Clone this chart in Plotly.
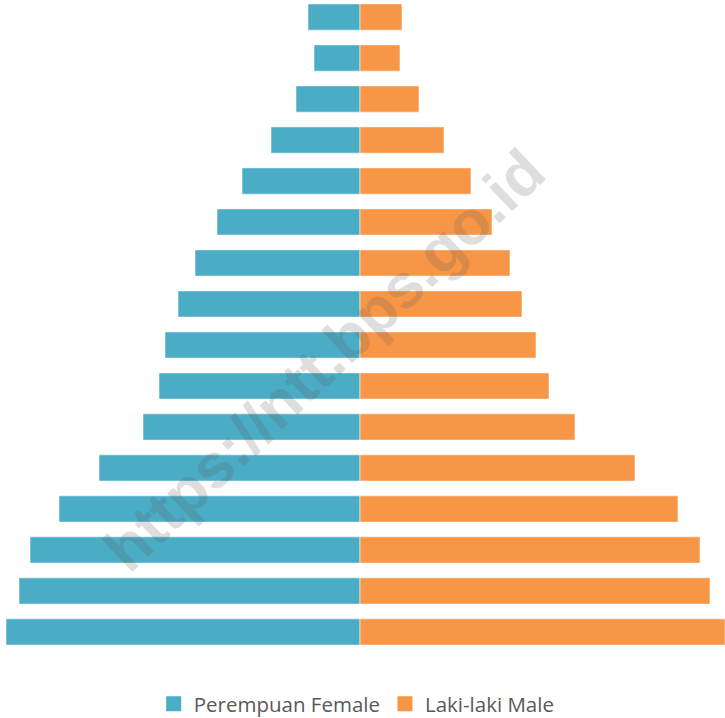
import plotly.graph_objects as go

# kelompok umur, dari bawah (0-4) ke atas (75+)
umur = ["0-4", "5-9", "10-14", "15-19", "20-24", "25-29", "30-34", "35-39",
        "40-44", "45-49", "50-54", "55-59", "60-64", "65-69", "70-74", "75+"]

# perkiraan jumlah penduduk (ribu)
perempuan = [354, 341, 330, 301, 261, 217, 201, 195, 182, 165, 143, 118, 89, 64, 46, 52]
laki = [365, 350, 340, 318, 275, 215, 189, 176, 162, 150, 132, 111, 84, 59, 40, 42]

biru = "#4BACC6"
oranye = "#F79646"

fig = go.Figure()
fig.add_trace(go.Bar(
    y=umur, x=[-v for v in perempuan], orientation="h",
    name="Perempuan Female", showlegend=False,
    marker=dict(color=biru, line=dict(color="rgba(255,255,255,0.55)", width=1)),
))
fig.add_trace(go.Bar(
    y=umur, x=laki, orientation="h",
    name="Laki-laki Male", showlegend=False,
    marker=dict(color=oranye, line=dict(color="rgba(255,255,255,0.55)", width=1)),
))

# legenda dengan kotak yang lebih besar
for nama, warna in [("Perempuan Female", biru), ("Laki-laki Male", oranye)]:
    fig.add_trace(go.Scatter(
        x=[None], y=[None], mode="markers", name=nama,
        marker=dict(symbol="square", size=15, color=warna),
    ))

fig.update_layout(
    width=725, height=718,
    barmode="relative", bargap=0.36,
    margin=dict(l=0, r=0, t=0, b=64),
    plot_bgcolor="white", paper_bgcolor="white",
    xaxis=dict(range=[-360, 365], visible=False, fixedrange=True),
    yaxis=dict(range=[-0.537, 15.415], visible=False, fixedrange=True),
    showlegend=True,
    legend=dict(orientation="h", x=0.492, xanchor="center",
                yref="container", y=0.0195, yanchor="middle",
                font=dict(family="Open Sans", size=20.5, color="#595959"),
                itemwidth=30, traceorder="normal"),
    font=dict(family="Open Sans"),
)

# watermark
fig.add_annotation(
    text="<b>https://ntt.bps.go.id</b>", xref="paper", yref="paper",
    x=0.448, y=0.45, showarrow=False, textangle=-43.5,
    font=dict(family="Liberation Sans", size=62, color="rgba(90,90,90,0.2)"),
)

fig.write_html("out.html", config={"displayModeBar": False},
               post_script="document.body.style.margin='0';")
